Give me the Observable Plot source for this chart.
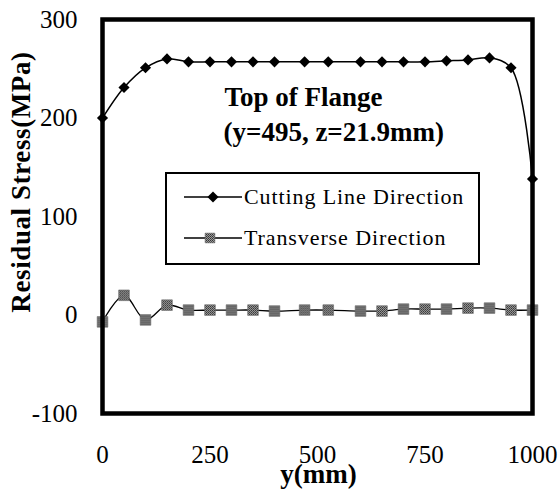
<!DOCTYPE html>
<html><head><meta charset="utf-8">
<script src="https://cdn.jsdelivr.net/npm/d3@7"></script>
<script src="https://cdn.jsdelivr.net/npm/@observablehq/plot@0.6"></script>
<style>
html,body{margin:0;padding:0;background:#fff;}
#wrap{position:relative;width:560px;height:493px;font-family:"Liberation Serif","Times New Roman",serif;color:#000;overflow:hidden;}
#legend{position:absolute;left:165px;top:172px;width:311px;height:89px;border:2px solid #000;background:#fff;}
#legend .sw{position:absolute;left:0;top:0;}
#legend .lbl{position:absolute;left:77px;font-size:22px;letter-spacing:0.9px;line-height:1;white-space:nowrap;}
#ytitle{position:absolute;left:21px;top:182px;transform:translate(-50%,-50%) rotate(-90deg);font-weight:bold;font-size:27px;letter-spacing:0.6px;white-space:nowrap;line-height:1;}
</style></head>
<body><div id="wrap"></div>
<script>
const positions = [0, 50, 100, 150, 200, 250, 300, 350, 400, 470, 525, 600, 650, 700, 750, 800, 850, 900, 950, 1000];
const cuttingLine = [200, 231, 251, 260, 257, 257, 257, 257, 257, 257, 257, 257, 257, 257, 257, 258, 259, 261, 251, 138];
const transverse = [-7, 20, -5, 10, 5, 5, 5, 5, 4, 5, 5, 4, 4, 6, 6, 6, 7, 7, 5, 5];
const xTicks = [0, 250, 500, 750, 1000];
const yTicks = [-100, 0, 100, 200, 300];
const seriesNames = ["Cutting Line Direction", "Transverse Direction"];
const titleLines = ["Top of Flange", "(y=495, z=21.9mm)"];
const xLabel = "y(mm)";
const yLabel = "Residual Stress(MPa)";

const cutRows = positions.map((x, i) => ({x, v: cuttingLine[i]}));
const trRows = positions.map((x, i) => ({x, v: transverse[i]}));

const chart = Plot.plot({
  width: 560, height: 493,
  marginLeft: 102, marginRight: 28, marginTop: 19, marginBottom: 80,
  style: {fontFamily: "Liberation Serif, Times New Roman, serif", background: "#fff", color: "#000"},
  x: {domain: [0, 1000]},
  y: {domain: [-100, 300]},
  marks: [
    Plot.axisY({ticks: yTicks, tickSize: 0, tickPadding: 25, fontSize: 25, label: null, tickFormat: d => String(d)}),
    Plot.axisX({ticks: xTicks, tickSize: 0, tickPadding: 32, fontSize: 25, label: null, tickFormat: d => String(d)}),
    Plot.line(trRows, {x: "x", y: "v", curve: "catmull-rom", stroke: "#000", strokeWidth: 1.3}),
    Plot.dot(trRows, {x: "x", y: "v", symbol: "square", r: 6, fill: "url(#speckle)", stroke: "#666", strokeWidth: 0.6}),
    Plot.line(cutRows, {x: "x", y: "v", curve: "catmull-rom", stroke: "#000", strokeWidth: 1.5}),
    Plot.dot(cutRows, {x: "x", y: "v", symbol: "diamond2", r: 5, fill: "#000", stroke: "none"}),
    Plot.frame({stroke: "#000", strokeWidth: 4.5}),
    Plot.text([titleLines[0]], {text: d => d, frameAnchor: "top-left", dx: 122, dy: 78, textAnchor: "start", lineAnchor: "middle", fontWeight: "bold", fontSize: 27, letterSpacing: 0.8}),
    Plot.text([titleLines[1]], {text: d => d, frameAnchor: "top-left", dx: 121, dy: 113, textAnchor: "start", lineAnchor: "middle", fontWeight: "bold", fontSize: 27, letterSpacing: 0.4}),
    Plot.text([xLabel], {text: d => d, frameAnchor: "bottom", dx: 1, dy: 61, lineAnchor: "middle", fontWeight: "bold", fontSize: 27})
  ]
});

const svg = d3.select(chart);
const defs = svg.insert("defs", ":first-child");
const pat = defs.append("pattern").attr("id", "speckle").attr("width", 2).attr("height", 2).attr("patternUnits", "userSpaceOnUse");
pat.append("rect").attr("width", 2).attr("height", 2).attr("fill", "#9a9a9a");
pat.append("rect").attr("width", 1).attr("height", 1).attr("fill", "#333");
pat.append("rect").attr("x", 1).attr("y", 1).attr("width", 1).attr("height", 1).attr("fill", "#4a4a4a");

const wrap = document.getElementById("wrap");
wrap.appendChild(chart);

// y-axis title
const yt = document.createElement("div");
yt.id = "ytitle";
yt.textContent = yLabel;
wrap.appendChild(yt);

// legend
const legend = document.createElement("div");
legend.id = "legend";
const rowsY = [23, 64];
const sw = d3.select(legend).append("svg").attr("class", "sw").attr("width", 311).attr("height", 89);
seriesNames.forEach((name, i) => {
  const y = rowsY[i];
  sw.append("line").attr("x1", 17).attr("x2", 75).attr("y1", y).attr("y2", y).attr("stroke", "#000").attr("stroke-width", 1.5);
  if (i === 0) {
    sw.append("path").attr("d", d3.symbol(d3.symbolDiamond2, Math.PI * 25)()).attr("transform", `translate(46,${y})`).attr("fill", "#000");
  } else {
    sw.append("path").attr("d", d3.symbol(d3.symbolSquare, Math.PI * 30)()).attr("transform", `translate(43,${y})`).attr("fill", "url(#speckle)").attr("stroke", "#666").attr("stroke-width", 0.6);
  }
  const lbl = document.createElement("div");
  lbl.className = "lbl";
  lbl.textContent = name;
  lbl.style.top = (y - 11) + "px";
  legend.appendChild(lbl);
});
wrap.appendChild(legend);
</script>
</body></html>
